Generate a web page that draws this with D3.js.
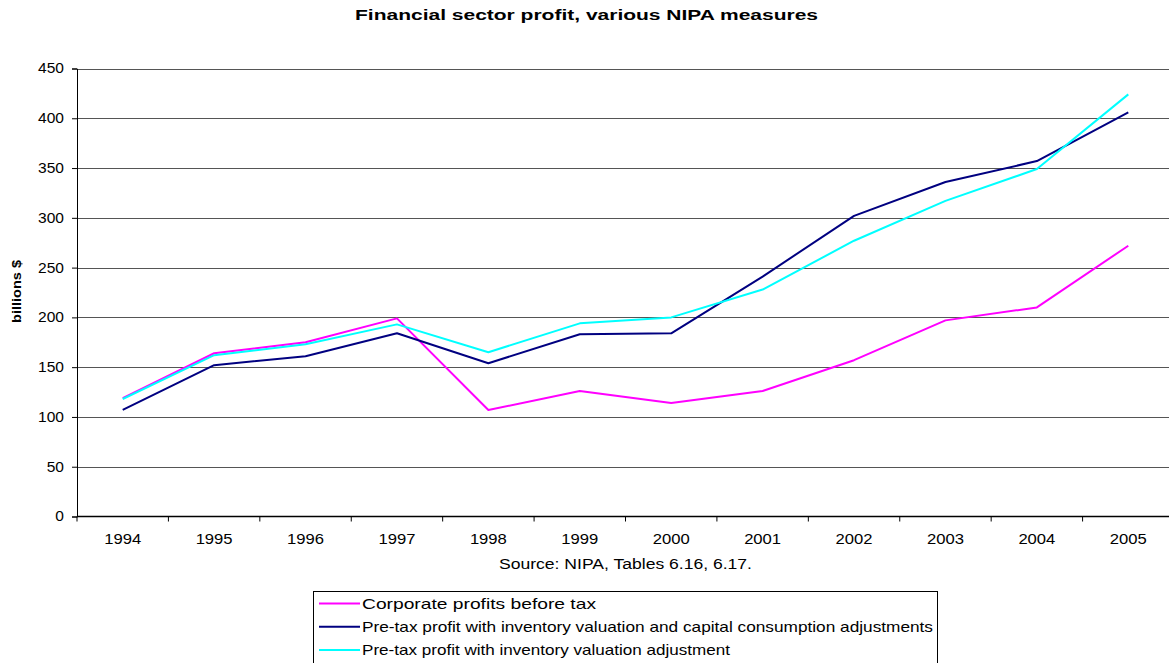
<!DOCTYPE html>
<html>
<head>
<meta charset="utf-8">
<script src="https://cdn.jsdelivr.net/npm/d3@7"></script>
<style>
  body { margin: 0; background: #fff; }
  svg { display: block; font-family: "Liberation Sans", Arial, sans-serif; }
</style>
</head>
<body>
<svg id="chart" width="1169" height="663"></svg>
<script>
// Financial sector profit, billions of dollars, 1994–2005
const years = ["1994","1995","1996","1997","1998","1999","2000","2001","2002","2003","2004","2005"];
const corporateProfits = [119, 164, 175, 199, 107, 126, 114, 126, 157, 197, 210, 272];
const ivaCcadj = [107, 152, 161, 184, 154, 183, 184, 241, 302, 336, 357, 406];
const ivaOnly = [118, 162, 173, 193, 165, 194, 200, 228, 277, 317, 349, 424];
const yTicks = [0, 50, 100, 150, 200, 250, 300, 350, 400, 450];

const seriesNames = [
  "Corporate profits before tax",
  "Pre-tax profit with inventory valuation and capital consumption adjustments",
  "Pre-tax profit with inventory valuation adjustment"
];
const seriesValues = [corporateProfits, ivaCcadj, ivaOnly];
const seriesColors = ["#ff00ff", "#000080", "#00ffff"];

const svg = d3.select("#chart");
const plotLeft = 77, plotRight = 1174, plotTop = 68.5, plotBottom = 516.5;

const x = d3.scaleBand().domain(years).range([plotLeft, plotRight]);
const y = d3.scaleLinear().domain([0, 450]).range([plotBottom, plotTop]);

// Text is set in a slightly wide face: stretch each label to its box width
function widen(sel, perChar) {
  sel.attr("lengthAdjust", "spacingAndGlyphs")
     .attr("textLength", function () { return this.getComputedTextLength() * perChar; });
}

// Title
svg.append("text")
  .attr("x", 355).attr("y", 19.5)
  .attr("font-weight", "bold").attr("font-size", 14)
  .attr("lengthAdjust", "spacingAndGlyphs").attr("textLength", 463)
  .text("Financial sector profit, various NIPA measures");

// Horizontal gridlines
svg.append("g").selectAll("line")
  .data(yTicks.filter(d => d > 0))
  .join("line")
  .attr("x1", plotLeft).attr("x2", plotRight)
  .attr("y1", d => Math.round(y(d)) + 0.5).attr("y2", d => Math.round(y(d)) + 0.5)
  .attr("stroke", "#555").attr("stroke-width", 1);

// Y axis
const yAxis = d3.axisLeft(y).tickValues(yTicks).tickSize(5).tickPadding(8);
const gy = svg.append("g").attr("transform", `translate(${plotLeft},0)`).call(yAxis);
gy.select(".domain").attr("stroke", "#000");
gy.selectAll(".tick line").attr("stroke", "#000");
gy.selectAll(".tick text").attr("font-size", 14).attr("fill", "#000")
  .attr("font-family", "Liberation Sans, Arial, sans-serif")
  .call(widen, 1.11);

// X axis with ticks at category boundaries
const gx = svg.append("g").attr("transform", `translate(0,${plotBottom})`);
gx.append("line").attr("x1", plotLeft).attr("x2", plotRight).attr("stroke", "#000").attr("stroke-width", 1.5);
gx.selectAll(".bt").data(years).join("line").attr("class", "bt")
  .attr("x1", d => x(d)).attr("x2", d => x(d))
  .attr("y1", 0).attr("y2", 5).attr("stroke", "#000");
gx.selectAll(".lbl").data(years).join("text").attr("class", "lbl")
  .attr("x", d => x(d) + x.bandwidth() / 2).attr("y", 27.5)
  .attr("text-anchor", "middle").attr("font-size", 14.5)
  .attr("lengthAdjust", "spacingAndGlyphs").attr("textLength", 37)
  .text(d => d);

// Y axis label
svg.append("text")
  .attr("transform", "translate(21,291.5) rotate(-90)")
  .attr("text-anchor", "middle")
  .attr("font-weight", "bold").attr("font-size", 13.5)
  .attr("lengthAdjust", "spacingAndGlyphs").attr("textLength", 63)
  .text("billions $");

// Lines
const line = d3.line()
  .x((d, i) => x(years[i]) + x.bandwidth() / 2)
  .y(d => y(d));
seriesValues.forEach((vals, k) => {
  svg.append("path").datum(vals)
    .attr("fill", "none")
    .attr("stroke", seriesColors[k])
    .attr("stroke-width", 2)
    .attr("stroke-linejoin", "round")
    .attr("d", line);
});

// Source note
svg.append("text")
  .attr("x", 499).attr("y", 568.5)
  .attr("font-size", 14)
  .attr("lengthAdjust", "spacingAndGlyphs").attr("textLength", 253)
  .text("Source: NIPA, Tables 6.16, 6.17.");

// Legend
const legendTextWidths = [234, 571, 368];
const lg = svg.append("g");
lg.append("rect").attr("x", 313.5).attr("y", 591.5).attr("width", 624).attr("height", 75)
  .attr("fill", "#fff").attr("stroke", "#000").attr("stroke-width", 1);
seriesNames.forEach((name, k) => {
  const cy = 603.5 + k * 23.3;
  lg.append("line").attr("x1", 319).attr("x2", 360).attr("y1", cy).attr("y2", cy)
    .attr("stroke", seriesColors[k]).attr("stroke-width", 2);
  lg.append("text").attr("x", 362).attr("y", cy + 5)
    .attr("font-size", 15)
    .attr("lengthAdjust", "spacingAndGlyphs").attr("textLength", legendTextWidths[k])
    .text(name);
});
</script>
</body>
</html>
